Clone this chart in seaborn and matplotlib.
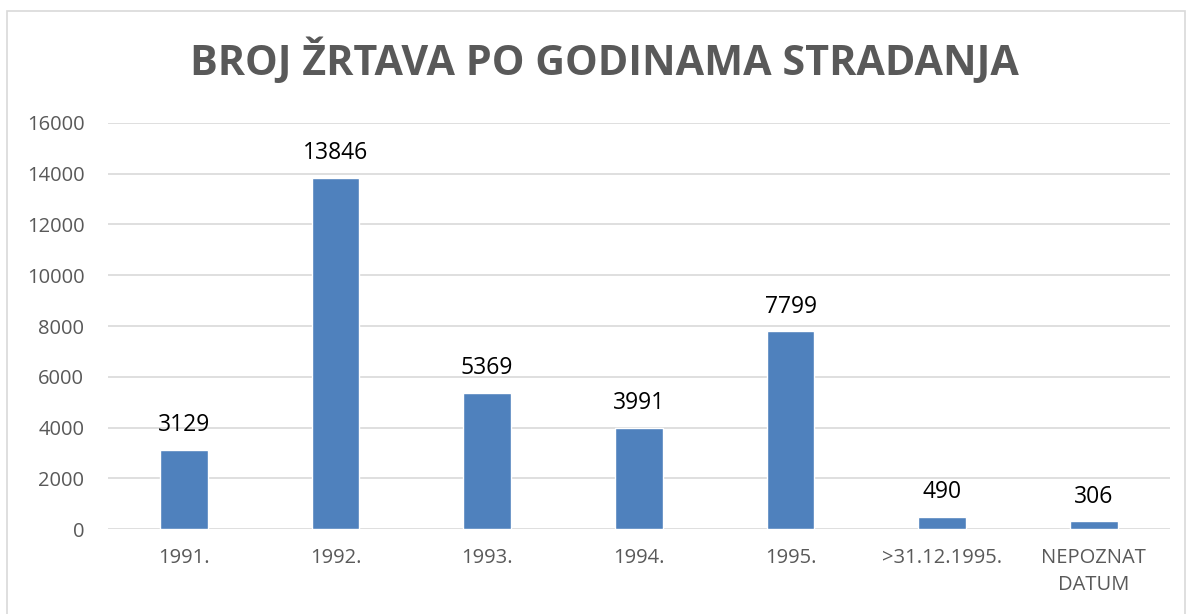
import matplotlib
matplotlib.use("Agg")
import matplotlib.pyplot as plt
import matplotlib.patches as mpatches
import seaborn as sns
import pandas as pd

# data
categories = ["1991.", "1992.", "1993.", "1994.", "1995.", ">31.12.1995.", "NEPOZNAT\nDATUM"]
victims = [3129, 13846, 5369, 3991, 7799, 490, 306]
yticks = [0, 2000, 4000, 6000, 8000, 10000, 12000, 14000, 16000]

df = pd.DataFrame({"kategorija": categories, "broj": victims})

sns.set_style("white")
plt.rcParams['font.family'] = ['Open Sans', 'DejaVu Sans']

fig = plt.figure(figsize=(11.89, 6.14), dpi=100)
ax = fig.add_axes([0.0908, 0.1384, 0.893, 0.6613])

sns.barplot(data=df, x="kategorija", y="broj", color="#4F81BD", width=0.316,
            saturation=1, ax=ax, zorder=3)

ax.set_ylim(0, 16000)
ax.set_yticks(yticks)
ax.set_yticklabels([str(t) for t in yticks])
ax.grid(axis="y", color="#D9D9D9", linewidth=1.2, zorder=0)
ax.set_axisbelow(True)
for s in ax.spines.values():
    s.set_visible(False)
ax.tick_params(axis="both", length=0, labelsize=14.5, colors="#595959")
ax.tick_params(axis="x", pad=14)
ax.tick_params(axis="y", pad=17)
for lbl in ax.get_xticklabels():
    lbl.set_linespacing(1.45)
ax.set_xlabel("")
ax.set_ylabel("")

for i, v in enumerate(victims):
    ax.annotate(str(v), (i, v), xytext=(0, 9), textcoords="offset points",
                ha="center", va="bottom", fontsize=16.5, color="black")

fig.text(0.508, 0.9, "BROJ ŽRTAVA PO GODINAMA STRADANJA", ha="center", va="center",
         fontsize=29.7, fontweight="bold", color="#595959")

fig.patches.append(mpatches.Rectangle((7 / 1189, -0.01), 1178 / 1189, 1 - 11 / 614 + 0.01,
                                      transform=fig.transFigure, fill=False,
                                      edgecolor="#D9D9D9", linewidth=1.2))

fig.savefig("out.png", dpi=100)
